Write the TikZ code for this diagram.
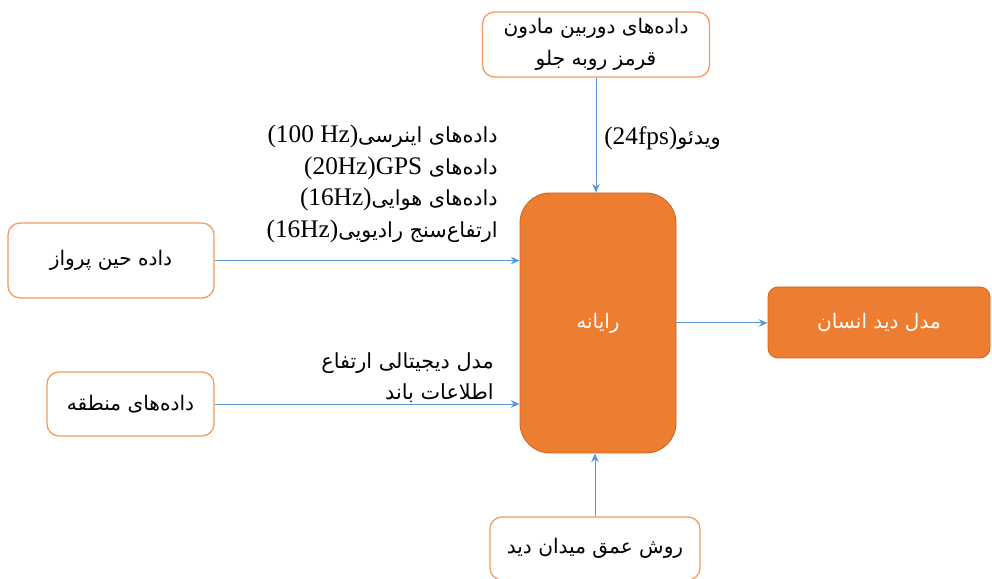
\documentclass[tikz,border=0pt]{standalone}
\usepackage{fontspec}
\newfontfamily\fa[Script=Arabic]{DejaVu Sans}
\newfontfamily\lat{Liberation Serif}
\TeXXeTstate=1
\usetikzlibrary{arrows.meta}
\usetikzlibrary{positioning}

\definecolor{fillorange}{HTML}{ED7D31}
\definecolor{lineorange}{HTML}{F29A5C}
\definecolor{darkorange}{HTML}{C8651F}
\definecolor{arrowblue}{HTML}{5B9BD5}

\newcommand{\rtl}[1]{\beginR #1\endR}
\newcommand{\ltr}[1]{\beginL{\lat\fontsize{18}{22.5}\selectfont #1}\endL}

\begin{document}
\begin{tikzpicture}[>={Stealth[length=2.2mm, width=1.9mm]},
    inbox/.style = {draw=lineorange, line width=0.9pt, rounded corners=0.3cm, fill=white,
                    align=center, inner sep=0pt, font=\fa\fontsize{14.3}{23}\selectfont},
    outbox/.style = {draw=darkorange, line width=0.6pt, fill=fillorange, text=white,
                     align=center, inner sep=0pt, font=\fa\fontsize{14.3}{23}\selectfont},
    lbl/.style = {inner sep=0pt, font=\fa\fontsize{14.8}{22.5}\selectfont},
    link/.style = {->, draw=arrowblue, line width=0.7pt}]

    \useasboundingbox (0,0) rectangle (24.8,14.475);

    \node[inbox, minimum width=5.675cm, minimum height=1.625cm] (camera) at (14.9,13.3625)
        {\rtl{داده‌های دوربین مادون}\\\rtl{قرمز روبه جلو}};
    \node[outbox, rounded corners=0.75cm, minimum width=3.9cm, minimum height=6.5cm] (comp) at (14.95,6.4)
        {\rtl{رایانه}};
    \node[outbox, rounded corners=0.25cm, minimum width=5.55cm, minimum height=1.775cm] (human) at (21.975,6.4125)
        {\rtl{مدل دید انسان}};
    \node[inbox, minimum width=5.15cm, minimum height=1.875cm] (flight) at (2.775,7.9625)
        {\rtl{داده حین پرواز}};
    \node[inbox, minimum width=4.175cm, minimum height=1.6cm] (region) at (3.2625,4.375)
        {\rtl{داده‌های منطقه}};
    \node[inbox, minimum width=5.25cm, minimum height=1.575cm] (depth) at (14.875,0.7625)
        {\rtl{روش عمق میدان دید}};

    \node[lbl, anchor=west] (videolbl) at (15.1,11.025)
        {\rtl{ویدئو\ltr{(24fps)}}};
    \node[lbl, anchor=east, align=right] (sensorlbl) at (12.45,9.88)
        {\rtl{داده‌های اینرسی\ltr{(100 Hz)}}\\
         \rtl{داده‌های \ltr{GPS}\ltr{(20Hz)}}\\
         \rtl{داده‌های هوایی\ltr{(16Hz)}}\\
         \rtl{ارتفاع‌سنج رادیویی\ltr{(16Hz)}}};
    \node[lbl, anchor=east, align=right] (demlbl) at (12.35,5.03)
        {\rtl{مدل دیجیتالی ارتفاع}\\\rtl{اطلاعات باند}};

    \draw[link] (camera.south) -- (camera.south |- comp.north);
    \draw[link] (flight.east) -- (flight.east -| comp.west);
    \draw[link] (region.east) -- (region.east -| comp.west);
    \draw[link] (depth.north) -- (depth.north |- comp.south);
    \draw[link] (comp.east) -- (comp.east -| human.west);

\end{tikzpicture}
\end{document}
